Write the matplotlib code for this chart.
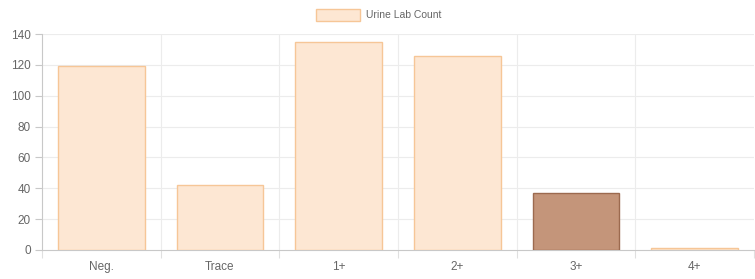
import matplotlib
matplotlib.use("Agg")
import matplotlib.pyplot as plt
from matplotlib.patches import Rectangle

categories = ["Neg.", "Trace", "1+", "2+", "3+", "4+"]
values = [119, 42, 135, 126, 37, 1]
highlight = "3+"
legend_label = "Urine Lab Count"

W, H = 755, 279
fig = plt.figure(figsize=(W / 100, H / 100), dpi=100)
plt.rcParams['font.family'] = ['Liberation Sans', 'DejaVu Sans']

left, right, bottom, top = 42, 754, 250, 34
ax = fig.add_axes([left / W, 1 - bottom / H, (right - left) / W, (bottom - top) / H])

fill = "#fde7d3"
edge = "#f6c697"
hfill = "#c4957a"
hedge = "#9c6a4f"

x = range(len(categories))
for i, (c, v) in enumerate(zip(categories, values)):
    if c == highlight:
        ax.bar(i, v, width=0.73, color=hfill, edgecolor=hedge, linewidth=1.0, zorder=3)
    else:
        ax.bar(i, v, width=0.73, color=fill, edgecolor=edge, linewidth=1.0, zorder=3)

ax.set_xlim(-0.5, len(categories) - 0.5)
ax.set_ylim(0, 140)
ax.set_yticks(range(0, 141, 20))
ax.set_xticks(list(x))
ax.set_xticklabels(categories)

grid_c = "#ececec"
for yv in range(20, 141, 20):
    ax.axhline(yv, color=grid_c, linewidth=0.8, zorder=1)
for b in range(1, len(categories)):
    ax.axvline(b - 0.5, color=grid_c, linewidth=0.8, zorder=1)

for s in ["top", "right"]:
    ax.spines[s].set_visible(False)
ax.spines["left"].set_color("#c8c8c8")
ax.spines["bottom"].set_color("#c8c8c8")
ax.spines["left"].set_linewidth(0.8)
ax.spines["bottom"].set_linewidth(0.8)

ax.tick_params(axis="y", colors="#c8c8c8", labelcolor="#666666", labelsize=8.5, length=5, width=0.8, pad=3)
ax.tick_params(axis="x", colors="#ffffff", labelcolor="#666666", labelsize=8.5, length=0, pad=8)
ax.set_xticks([b - 0.5 for b in range(len(categories) + 1)], minor=True)
ax.tick_params(axis="x", which="minor", colors="#e0e0e0", length=6, width=0.8)

# legend
fig.patches.append(Rectangle((316 / W, 1 - 21 / H), 44 / W, 12 / H, transform=fig.transFigure,
                             facecolor=fill, edgecolor=edge, linewidth=1.0))
fig.text(366 / W, 1 - 15 / H, legend_label, fontsize=7.5, color="#666666", va="center", ha="left")

fig.savefig("out.png", dpi=100, facecolor="white")
